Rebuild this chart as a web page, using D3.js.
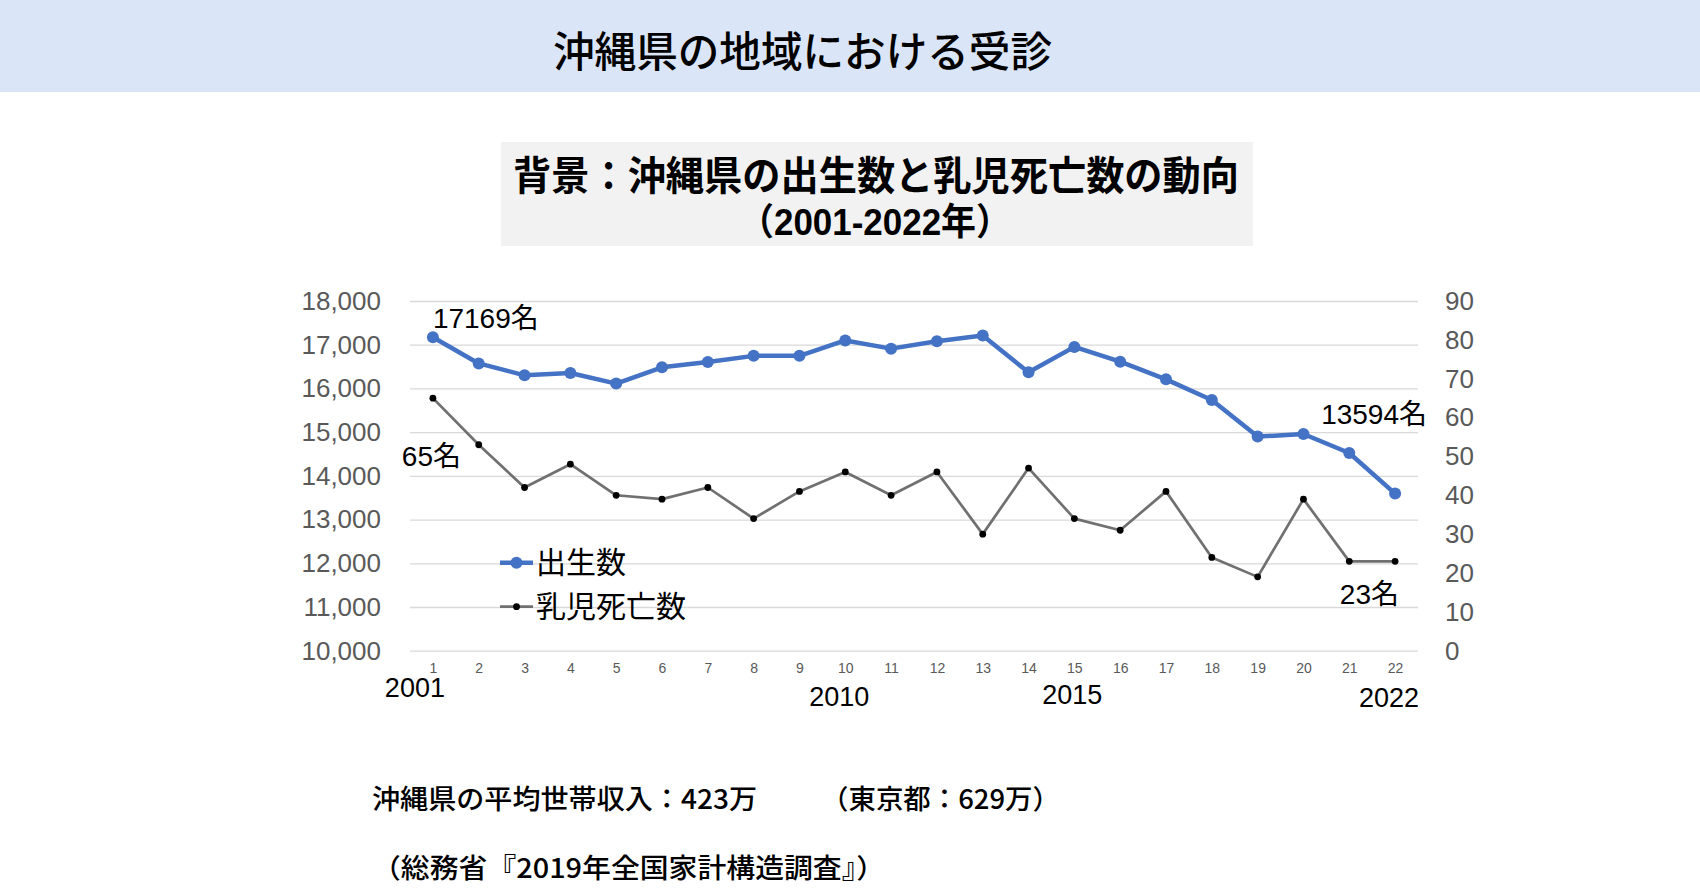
<!DOCTYPE html>
<html>
<head>
<meta charset="utf-8">
<script src="https://cdn.jsdelivr.net/npm/d3@7"></script>
<style>
  html, body { margin: 0; padding: 0; background: #ffffff; }
  svg { display: block; }
</style>
</head>
<body>
<svg id="chart" width="1700" height="892"></svg>
<script>
// ---------- data ----------
const categories = [1,2,3,4,5,6,7,8,9,10,11,12,13,14,15,16,17,18,19,20,21,22];
const births = [17169,16572,16300,16352,16110,16483,16604,16745,16745,17098,16910,17080,17210,16368,16950,16611,16208,15735,14898,14957,14522,13594];
const infantDeaths = [65,53,42,48,40,39,42,34,41,46,40,46,30,47,34,31,41,24,19,39,23,23];
const seriesNames = ["出生数", "乳児死亡数"];
const leftTicks = [10000,11000,12000,13000,14000,15000,16000,17000,18000];
const rightTicks = [0,10,20,30,40,50,60,70,80,90];
const yearLabels = [{cat:1, text:"2001"}, {cat:10, text:"2010"}, {cat:15, text:"2015"}, {cat:22, text:"2022"}];
const pageTitle = "沖縄県の地域における受診";
const chartTitle1 = "背景：沖縄県の出生数と乳児死亡数の動向";
const chartTitle2 = "（2001-2022年）";
const note1a = "沖縄県の平均世帯収入：423万";
const note1b = "（東京都：629万）";
const note2 = "（総務省『2019年全国家計構造調査』）";

// ---------- layout ----------
const svg = d3.select("#chart");
const W = 1700;
const plot = {left: 410, right: 1418, top: 301, bottom: 650.7};
const CJK = "'Noto Sans CJK JP', sans-serif";
const LAT = "'Liberation Sans', Arial, 'Noto Sans CJK JP', sans-serif";

// header band
svg.append("rect").attr("x",0).attr("y",0).attr("width",W).attr("height",92).attr("fill","#dae5f7");
svg.append("text").attr("x",553).attr("y",67).attr("font-family",CJK).attr("font-size",42)
  .attr("font-weight",500).attr("fill","#000")
  .attr("textLength",499).attr("lengthAdjust","spacingAndGlyphs").text(pageTitle);

// chart title box
svg.append("rect").attr("x",501).attr("y",142).attr("width",752).attr("height",104).attr("fill","#f2f2f2");
svg.append("text").attr("x",513).attr("y",190).attr("font-family",LAT).attr("font-size",40)
  .attr("font-weight",700).attr("fill","#000")
  .attr("textLength",726).attr("lengthAdjust","spacingAndGlyphs").text(chartTitle1);
svg.append("text").attr("x",739).attr("y",235).attr("font-family",LAT).attr("font-size",37)
  .attr("font-weight",700).attr("fill","#000")
  .attr("textLength",272).attr("lengthAdjust","spacingAndGlyphs").text(chartTitle2);

// scales
const x = d3.scalePoint().domain(categories).range([plot.left, plot.right]).padding(0.5);
const yL = d3.scaleLinear().domain([10000,18000]).range([plot.bottom, plot.top]);
const yR = d3.scaleLinear().domain([0,90]).range([plot.bottom, plot.top]);

// gridlines
const grid = svg.append("g").attr("transform",`translate(${plot.left},0)`)
  .call(d3.axisLeft(yL).tickValues(leftTicks).tickSize(-(plot.right-plot.left)).tickFormat(""));
grid.select(".domain").remove();
grid.selectAll("line").attr("stroke","#d9d9d9").attr("stroke-width",1.3);

// left axis labels
const axL = svg.append("g").attr("transform",`translate(381,0)`)
  .call(d3.axisLeft(yL).tickValues(leftTicks).tickSize(0).tickPadding(0).tickFormat(d3.format(",")));
axL.select(".domain").remove();
axL.selectAll("text").attr("font-family",LAT).attr("font-size",26).attr("fill","#595959");

// right axis labels
const axR = svg.append("g").attr("transform",`translate(1445,0)`)
  .call(d3.axisRight(yR).tickValues(rightTicks).tickSize(0).tickPadding(0));
axR.select(".domain").remove();
axR.selectAll("text").attr("font-family",LAT).attr("font-size",26).attr("fill","#595959");

// bottom category axis
const axB = svg.append("g").attr("transform",`translate(0,${plot.bottom})`)
  .call(d3.axisBottom(x).tickSize(0).tickPadding(12));
axB.select(".domain").remove();
axB.selectAll("text").attr("font-family",LAT).attr("font-size",14).attr("fill","#595959");

// year labels
const yearOffsets = {"2001":[-18,697], "2010":[-6,706], "2015":[-2,704], "2022":[-6,707]};
svg.append("g").selectAll("text").data(yearLabels).join("text")
  .attr("x", d => x(d.cat) + yearOffsets[d.text][0])
  .attr("y", d => yearOffsets[d.text][1])
  .attr("text-anchor","middle").attr("font-family",LAT).attr("font-size",27).attr("fill","#000")
  .text(d => d.text);

// infant deaths line
const deathLine = d3.line().x((d,i) => x(categories[i])).y(d => yR(d));
svg.append("path").datum(infantDeaths).attr("d",deathLine).attr("fill","none")
  .attr("stroke","#707070").attr("stroke-width",2.7).attr("stroke-linejoin","round");
svg.append("g").selectAll("circle").data(infantDeaths).join("circle")
  .attr("cx",(d,i) => x(categories[i])).attr("cy",d => yR(d)).attr("r",3.4).attr("fill","#000");

// births line
const birthLine = d3.line().x((d,i) => x(categories[i])).y(d => yL(d));
svg.append("path").datum(births).attr("d",birthLine).attr("fill","none")
  .attr("stroke","#4472c4").attr("stroke-width",4.5).attr("stroke-linejoin","round");
svg.append("g").selectAll("circle").data(births).join("circle")
  .attr("cx",(d,i) => x(categories[i])).attr("cy",d => yL(d)).attr("r",6).attr("fill","#4472c4");

// annotations
const ann = [
  {text: births[0] + "名", x: x(categories[0]), y: 328, anchor: "start"},
  {text: infantDeaths[0] + "名", x: 461, y: 466, anchor: "end"},
  {text: births[births.length-1] + "名", x: 1427, y: 424, anchor: "end"},
  {text: infantDeaths[infantDeaths.length-1] + "名", x: 1399, y: 604, anchor: "end"}
];
svg.append("g").selectAll("text").data(ann).join("text")
  .attr("x",d => d.x).attr("y",d => d.y).attr("text-anchor",d => d.anchor)
  .attr("font-family",LAT).attr("font-size",28).attr("fill","#000").text(d => d.text);

// legend
const leg = svg.append("g");
const legY = [562.7, 606.7];
leg.append("line").attr("x1",500).attr("x2",533).attr("y1",legY[0]).attr("y2",legY[0])
  .attr("stroke","#4472c4").attr("stroke-width",4.5);
leg.append("circle").attr("cx",516.5).attr("cy",legY[0]).attr("r",6).attr("fill","#4472c4");
leg.append("line").attr("x1",500).attr("x2",533).attr("y1",legY[1]).attr("y2",legY[1])
  .attr("stroke","#707070").attr("stroke-width",2.7);
leg.append("circle").attr("cx",516.5).attr("cy",legY[1]).attr("r",3.4).attr("fill","#000");
leg.selectAll("text").data(seriesNames).join("text")
  .attr("x",536).attr("y",(d,i) => legY[i] + 10.5)
  .attr("font-family",CJK).attr("font-size",30).attr("fill","#000").text(d => d);

// notes
svg.append("text").attr("x",372).attr("y",809).attr("font-family",CJK).attr("font-size",27)
  .attr("font-weight",500).attr("textLength",385).attr("lengthAdjust","spacingAndGlyphs").text(note1a);
svg.append("text").attr("x",821).attr("y",809).attr("font-family",CJK).attr("font-size",27)
  .attr("font-weight",500).attr("textLength",239).attr("lengthAdjust","spacingAndGlyphs").text(note1b);
svg.append("text").attr("x",372).attr("y",878).attr("font-family",CJK).attr("font-size",27)
  .attr("font-weight",500).attr("textLength",513).attr("lengthAdjust","spacingAndGlyphs").text(note2);
</script>
</body>
</html>
